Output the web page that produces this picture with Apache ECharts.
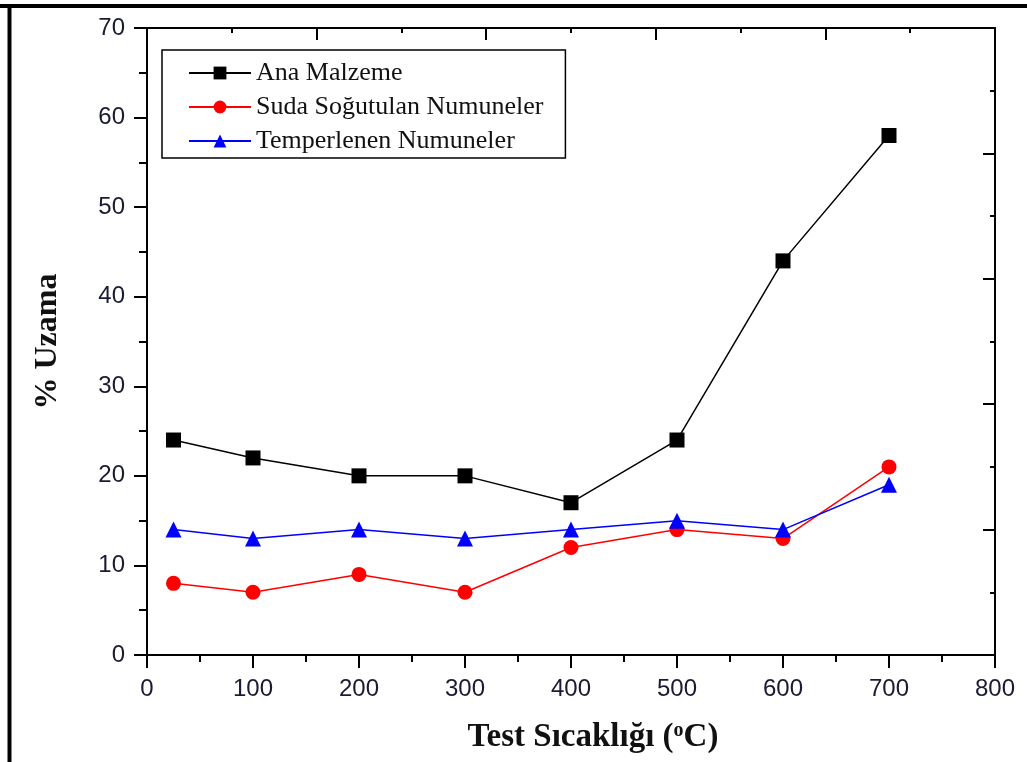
<!DOCTYPE html>
<html>
<head>
<meta charset="utf-8">
<script src="https://cdn.jsdelivr.net/npm/echarts@6/dist/echarts.min.js"></script>
<style>
html,body{margin:0;padding:0;background:#fff;}
#c{width:1027px;height:762px;}
</style>
</head>
<body>
<div id="c"></div>
<script>
var temps = [25, 100, 200, 300, 400, 500, 600, 700];
var anaMalzeme = [24, 22, 20, 20, 17, 24, 44, 58];
var sudaSogutulan = [8, 7, 9, 7, 12, 14, 13, 21];
var temperlenen = [14, 13, 14, 13, 14, 15, 14, 19];
var seriesNames = ['Ana Malzeme', 'Suda Soğutulan Numuneler', 'Temperlenen Numuneler'];

function pairs(xs, ys) { return xs.map(function (x, i) { return [x, ys[i]]; }); }

var chart = echarts.init(document.getElementById('c'), null, {renderer: 'canvas'});
var axisLine = {show: true, onZero: false, lineStyle: {color: '#000', width: 2}};
var labelFont = {fontFamily: 'Liberation Sans', fontSize: 24, color: '#1a1a33'};

chart.setOption({
  backgroundColor: '#fff',
  animation: false,
  graphic: [
    {type: 'line', shape: {x1: 0, y1: 6, x2: 1027, y2: 6}, style: {stroke: '#000', lineWidth: 4}},
    {type: 'line', shape: {x1: 9.5, y1: 4, x2: 9.5, y2: 762}, style: {stroke: '#000', lineWidth: 4}}
  ],
  grid: {left: 147, right: 32, top: 28, bottom: 107, containLabel: false},
  legend: {
    orient: 'vertical', left: 162, top: 50,
    padding: [10, 22, 4, 26],
    borderColor: '#000', borderWidth: 1.5, backgroundColor: '#fff',
    itemWidth: 62, itemHeight: 16, itemGap: 8,
    textStyle: {fontFamily: 'Liberation Serif', fontSize: 26, color: '#111'},
    data: seriesNames
  },
  xAxis: [{
    type: 'value', min: 0, max: 800, interval: 100,
    axisLine: axisLine,
    axisTick: {show: true, inside: false, length: 13, lineStyle: {color: '#000', width: 2}},
    minorTick: {show: true, splitNumber: 2, length: 7, lineStyle: {color: '#000', width: 2}},
    splitLine: {show: false},
    axisLabel: Object.assign({margin: 22}, labelFont),
    name: '{t|Test Sıcaklığı (}{s|o}{t|C)}',
    nameLocation: 'middle', nameGap: 66,
    nameTextStyle: {
      padding: [0, 0, 0, 44],
      rich: {
        t: {fontFamily: 'Liberation Serif', fontWeight: 'bold', fontSize: 33, color: '#111'},
        s: {fontFamily: 'Liberation Serif', fontWeight: 'bold', fontSize: 20, color: '#111', verticalAlign: 'top', padding: [0, 0, 12, 0]}
      }
    }
  }, {
    type: 'value', position: 'top', min: 0, max: 5, interval: 1,
    axisLine: axisLine,
    axisTick: {show: true, inside: true, length: 12, lineStyle: {color: '#000', width: 2}},
    minorTick: {show: true, splitNumber: 2, length: 5, lineStyle: {color: '#000', width: 2}},
    splitLine: {show: false}, axisLabel: {show: false}
  }],
  yAxis: [{
    type: 'value', min: 0, max: 70, interval: 10,
    axisLine: axisLine,
    axisTick: {show: true, inside: false, length: 13, lineStyle: {color: '#000', width: 2}},
    minorTick: {show: true, splitNumber: 2, length: 8, lineStyle: {color: '#000', width: 2}},
    splitLine: {show: false},
    axisLabel: Object.assign({margin: 22}, labelFont),
    name: '% Uzama', nameLocation: 'middle', nameGap: 83,
    nameTextStyle: {fontFamily: 'Liberation Serif', fontWeight: 'bold', fontSize: 32, color: '#111'}
  }, {
    type: 'value', position: 'right', min: 0, max: 5, interval: 1,
    axisLine: axisLine,
    axisTick: {show: true, inside: true, length: 12, lineStyle: {color: '#000', width: 2}},
    minorTick: {show: true, splitNumber: 2, length: 5, lineStyle: {color: '#000', width: 2}},
    splitLine: {show: false}, axisLabel: {show: false}
  }],
  series: [{
    name: seriesNames[0], type: 'line', xAxisIndex: 0, yAxisIndex: 0,
    data: pairs(temps, anaMalzeme),
    symbol: 'rect', symbolSize: 15,
    lineStyle: {color: '#000', width: 1.5}, itemStyle: {color: '#000'}
  }, {
    name: seriesNames[1], type: 'line', xAxisIndex: 0, yAxisIndex: 0,
    data: pairs(temps, sudaSogutulan),
    symbol: 'circle', symbolSize: 15,
    lineStyle: {color: '#ff0000', width: 1.5}, itemStyle: {color: '#ff0000'}
  }, {
    name: seriesNames[2], type: 'line', xAxisIndex: 0, yAxisIndex: 0,
    data: pairs(temps, temperlenen),
    symbol: 'triangle', symbolSize: 16,
    lineStyle: {color: '#0000ff', width: 1.5}, itemStyle: {color: '#0000ff'}
  }]
});
</script>
</body>
</html>
